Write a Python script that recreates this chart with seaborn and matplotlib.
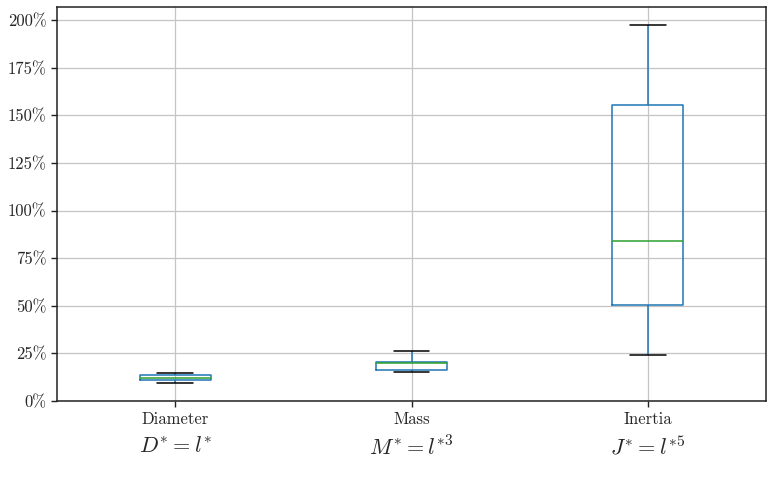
"""Relative error box plots for scaled quantities (diameter, mass, inertia)"""
import matplotlib
matplotlib.use("Agg")
import matplotlib.pyplot as plt
import pandas as pd
import seaborn as sns
from matplotlib.ticker import PercentFormatter

# five-number summaries (%): min, q1, median, q3, max
categories = ["Diameter", "Mass", "Inertia"]
formulas = [r"$D^{*} = l^{*}$", r"$M^{*} = l^{*3}$", r"$J^{*} = l^{*5}$"]
diameter = [9.4, 10.9, 11.9, 13.6, 14.9]
mass = [15.1, 16.4, 19.8, 20.3, 26.1]
inertia = [24.3, 50.4, 84.1, 155.4, 197.4]

df = pd.DataFrame({
    "quantity": [c for c, v in zip(categories, [diameter, mass, inertia]) for _ in v],
    "error": diameter + mass + inertia,
})

sns.set_style("ticks", rc={"axes.grid": True, "grid.color": "#c4c4c4",
                           "grid.linewidth": 0.9, "axes.edgecolor": "#222222"})
plt.rcParams["font.family"] = ["cmr10", "DejaVu Serif"]
plt.rcParams["mathtext.fontset"] = "cm"
plt.rcParams["axes.formatter.use_mathtext"] = True

fig, ax = plt.subplots(figsize=(7.71, 4.8), dpi=100)
fig.subplots_adjust(left=0.074, right=0.9935, top=0.985, bottom=0.1646)

sns.boxplot(
    data=df, x="quantity", y="error", order=categories,
    ax=ax, width=0.3, fill=False, whis=(0, 100),
    boxprops={"color": "#1f77b4", "linewidth": 1.1},
    whiskerprops={"color": "#1f77b4", "linewidth": 1.1},
    capprops={"color": "black", "linewidth": 1.1},
    medianprops={"color": "#2ca02c", "linewidth": 1.1},
)

ax.set_ylim(0, 206.8)
ax.set_xlim(-0.5, 2.5)
ax.set_yticks(range(0, 201, 25))
ax.yaxis.set_major_formatter(PercentFormatter(decimals=0))
ax.set_xlabel("")
ax.set_ylabel("")
ax.grid(True, axis="both", color="#c4c4c4", linewidth=0.9)
ax.tick_params(axis="both", labelsize=12, length=4, width=1, color="#222222")
for side in ["top", "right", "left", "bottom"]:
    ax.spines[side].set_visible(True)
    ax.spines[side].set_linewidth(1.1)
ax.set_axisbelow(True)

for i, f in enumerate(formulas):
    ax.text(i, -0.117, f, transform=ax.get_xaxis_transform(),
            ha="center", va="center", fontsize=16)

fig.savefig("out.png", dpi=100)
plt.close(fig)
